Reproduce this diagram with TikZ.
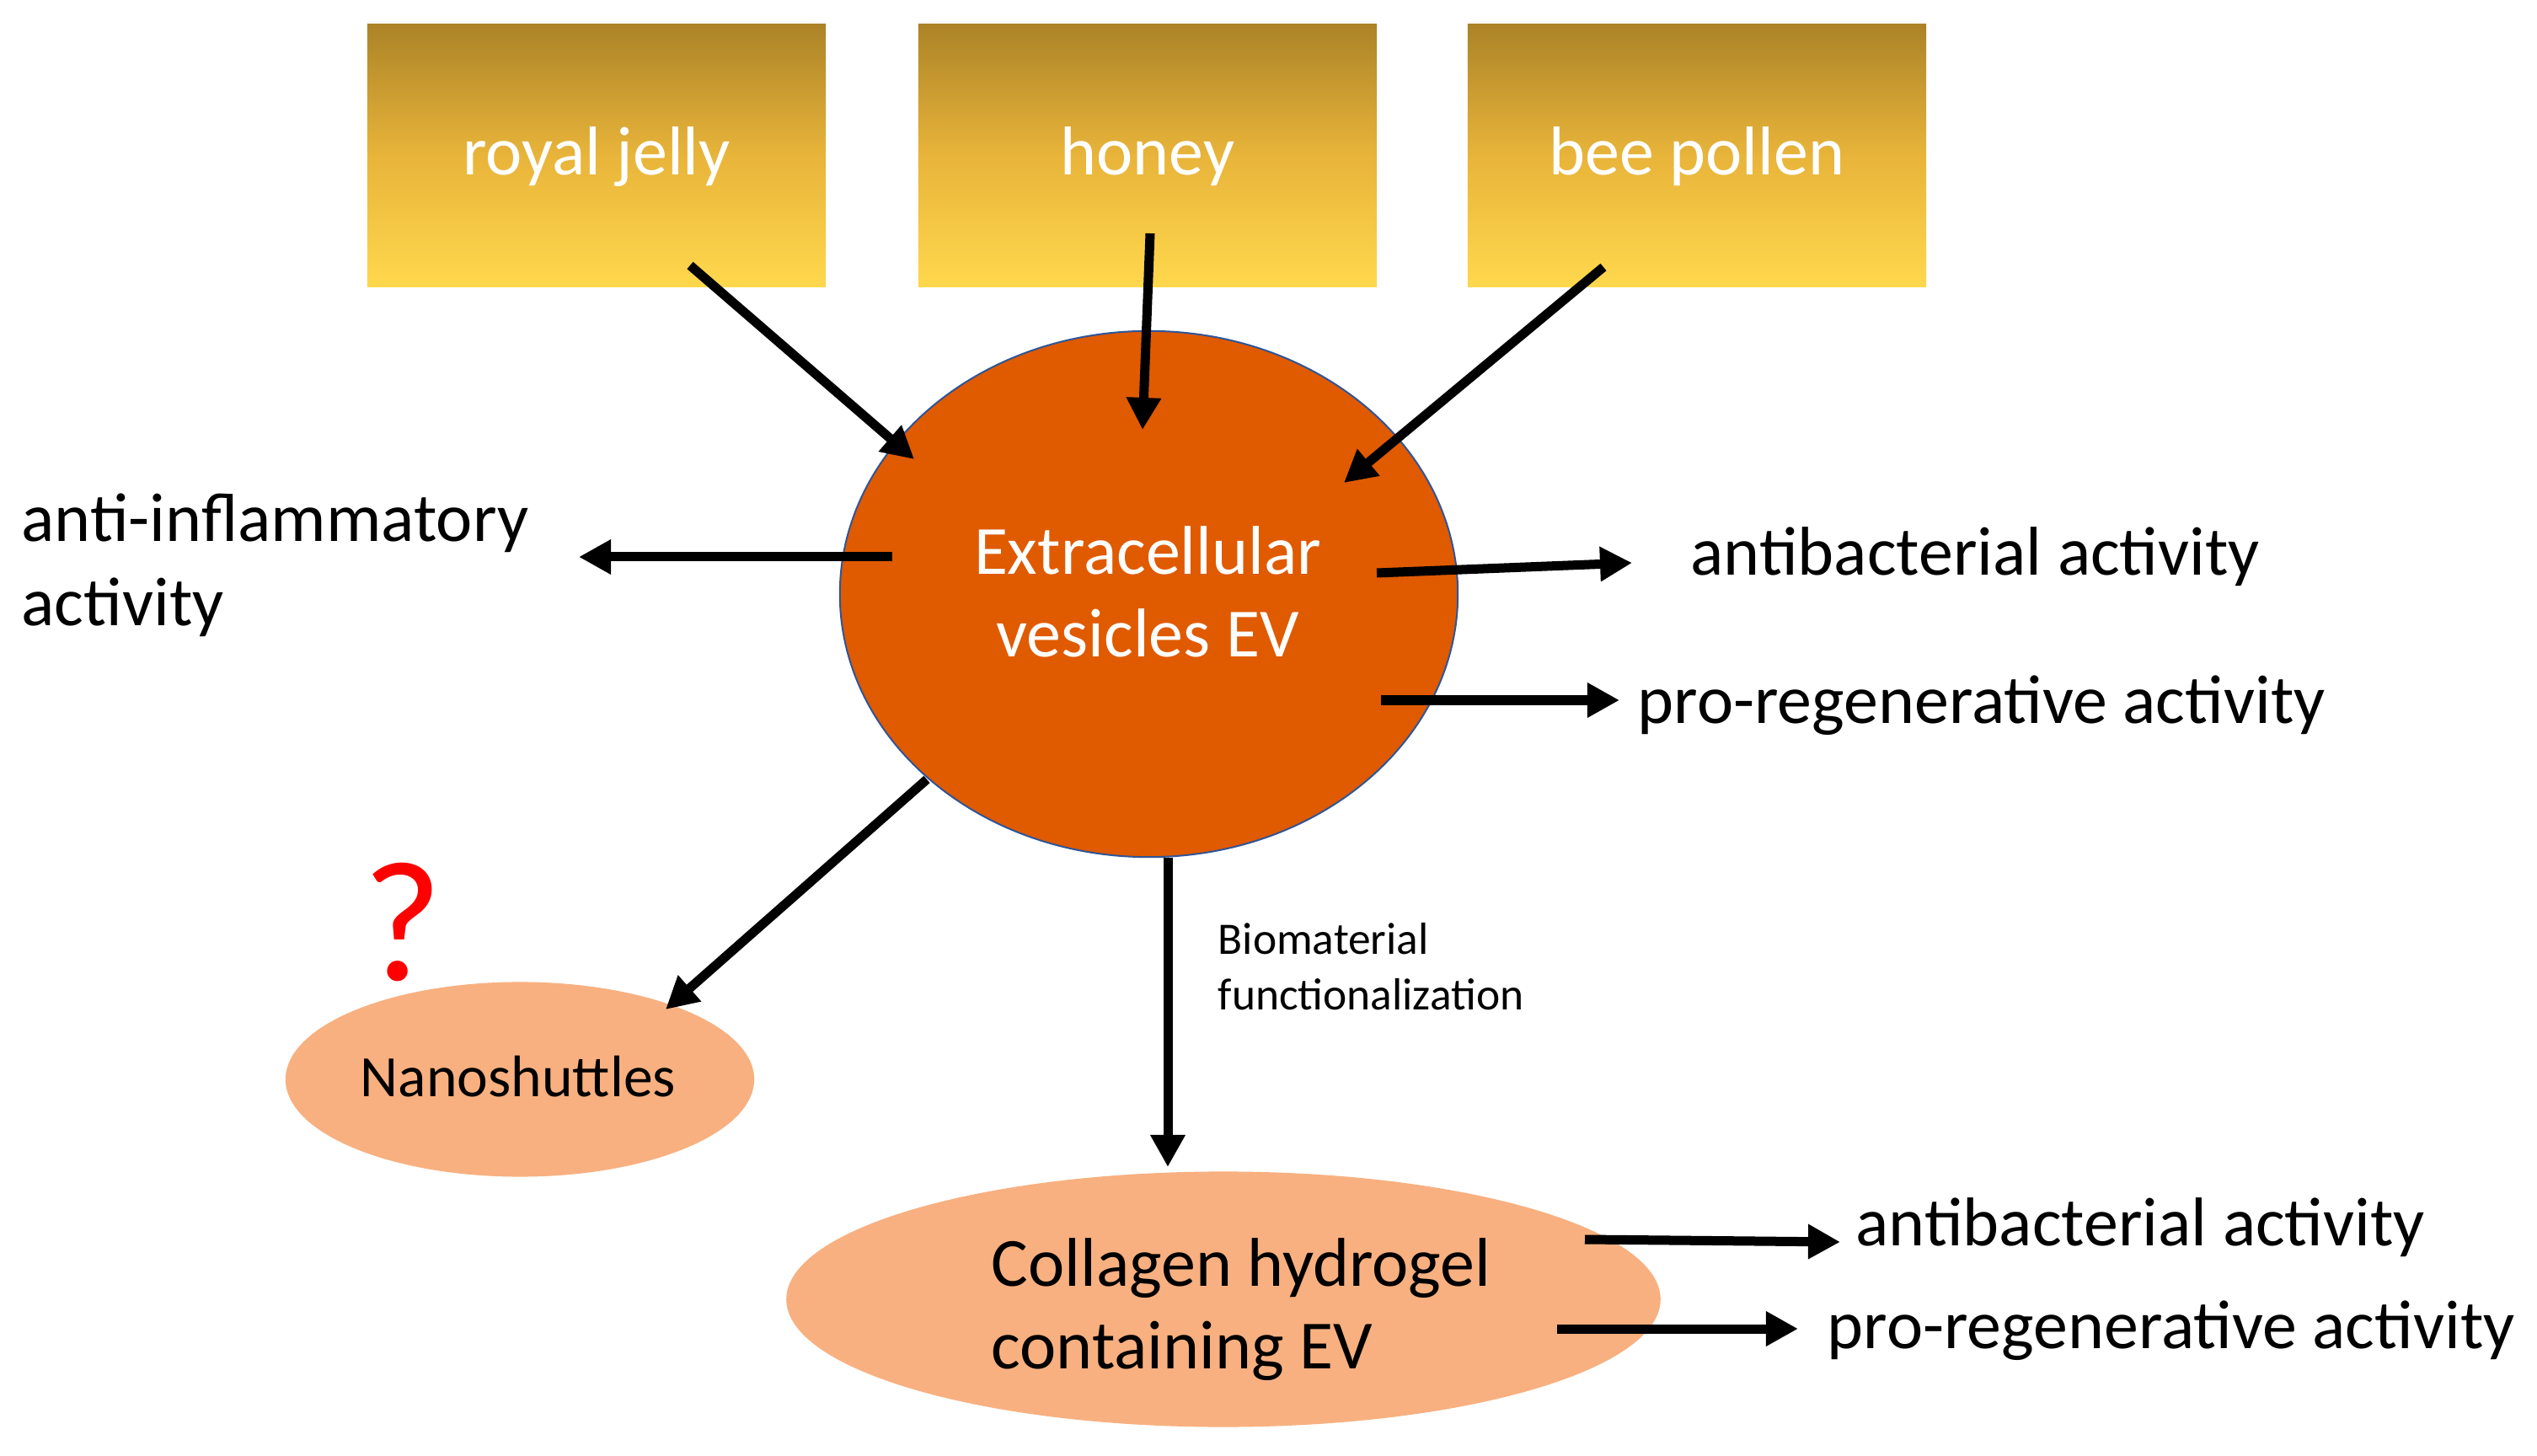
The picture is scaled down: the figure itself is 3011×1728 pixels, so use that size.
\documentclass[tikz,border=0pt]{standalone}
\usepackage{fontspec}
\setmainfont{Carlito}
\usetikzlibrary{arrows.meta,shapes.geometric}
\definecolor{evorange}{RGB}{224,90,0}
\definecolor{peach}{RGB}{248,176,128}
\definecolor{goldtop}{RGB}{171,131,39}
\definecolor{goldmid}{RGB}{232,180,58}
\definecolor{goldbot}{RGB}{255,216,77}
\definecolor{evborder}{RGB}{47,85,151}
\definecolor{qred}{RGB}{255,0,0}
\begin{document}
\begin{tikzpicture}[x=0.01cm,y=-0.01cm,
  bigfont/.style={font=\fontsize{23.3pt}{28.4pt}\selectfont},
  srcbox/.style={rectangle, minimum width=5.44cm, minimum height=3.12cm, inner sep=0,
    top color=goldtop, bottom color=goldbot, middle color=goldmid,
    text=white, bigfont, text height=0.60cm, text depth=0.15cm},
  evnode/.style={ellipse, fill=evorange, draw=evborder, line width=0.02cm,
    minimum width=7.33cm, minimum height=6.24cm, inner sep=0},
  peachnode/.style={ellipse, fill=peach, inner sep=0},
  lbl/.style={inner sep=0, bigfont, anchor=base west},
  clbl/.style={inner sep=0, bigfont, anchor=base},
  smalllbl/.style={inner sep=0, font=\fontsize{15.2pt}{18.8pt}\selectfont, anchor=base west},
  arr/.style={-{Triangle[length=0.38cm,width=0.39cm]}, line width=0.11cm}
]
\useasboundingbox[fill=white] (0,0) rectangle (3011,1728);

% source boxes
\node[srcbox] (rj) at (708,184.5) {royal jelly};
\node[srcbox] (hn) at (1362,184.5) {honey};
\node[srcbox] (bp) at (2014,184.5) {bee pollen};

% central ellipse
\node[evnode] (ev) at (1363.5,705) {};
\node[clbl, text=white] (ev1) at (1362,682) {Extracellular};
\node[clbl, text=white] (ev2) at (1362,780) {vesicles EV};

% lower ellipses
\node[peachnode, minimum width=5.56cm, minimum height=2.31cm] (ns) at (617,1281) {};
\node[inner sep=0, font=\fontsize{19.8pt}{24pt}\selectfont, anchor=base] (nst) at (615,1301) {Nanoshuttles};
\node[inner sep=0, font=\fontsize{58pt}{60pt}\selectfont, text=qred, anchor=base] (q) at (478,1163) {?};

\node[peachnode, minimum width=10.37cm, minimum height=3.03cm] (col) at (1452,1542) {};
\node[lbl] (col1) at (1176,1526) {Collagen hydrogel};
\node[lbl] (col2) at (1176,1624) {containing EV};

% labels
\node[lbl] (ai1) at (25,643) {anti-inflammatory};
\node[lbl] (ai2) at (25,743) {activity};
\node[lbl] (ab1) at (2006,683) {antibacterial activity};
\node[lbl] (pr1) at (1943,859) {pro-regenerative activity};
\node[lbl] (ab2) at (2202,1478) {antibacterial activity};
\node[lbl] (pr2) at (2168,1600) {pro-regenerative activity};
\node[smalllbl] (bm1) at (1445,1133) {Biomaterial};
\node[smalllbl] (bm2) at (1445,1198) {functionalization};

% arrow end points
\coordinate (rjS) at (819,315);   \coordinate (rjE) at (1085,545);
\coordinate (hnS) at (1365,277);  \coordinate (hnE) at (1356,510);
\coordinate (bpS) at (1903,317);  \coordinate (bpE) at (1595,573);
\coordinate (aiS) at (1059,661);  \coordinate (aiE) at (687,661);
\coordinate (abS) at (1634,680);  \coordinate (abE) at (1937,668);
\coordinate (prS) at (1639,831);  \coordinate (prE) at (1922,831);
\coordinate (nsS) at (1100,925);  \coordinate (nsE) at (790,1198);
\coordinate (bmS) at (1386,1018); \coordinate (bmE) at (1386,1385);
\coordinate (cabS) at (1881,1471); \coordinate (cabE) at (2184,1474);
\coordinate (cprS) at (1848,1577); \coordinate (cprE) at (2134,1577);

\draw[arr] (rjS) -- (rjE);
\draw[arr] (hnS) -- (hnE);
\draw[arr] (bpS) -- (bpE);
\draw[arr] (aiS) -- (aiE);
\draw[arr] (abS) -- (abE);
\draw[arr] (prS) -- (prE);
\draw[arr] (nsS) -- (nsE);
\draw[arr] (bmS) -- (bmE);
\draw[arr] (cabS) -- (cabE);
\draw[arr] (cprS) -- (cprE);
\end{tikzpicture}
\end{document}
